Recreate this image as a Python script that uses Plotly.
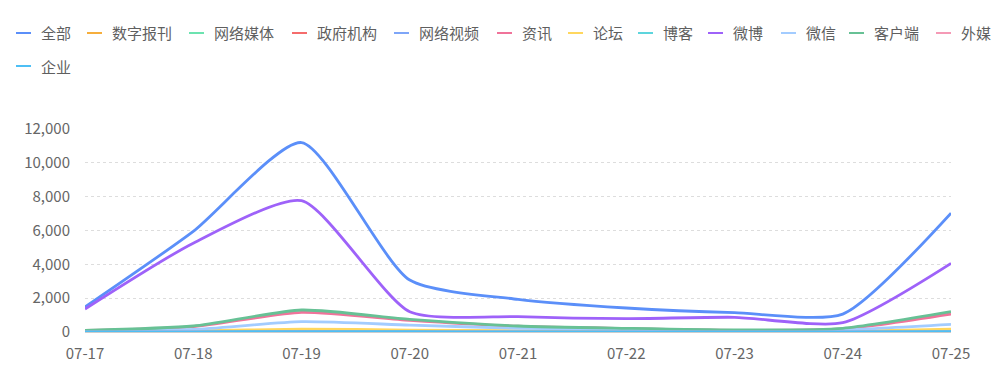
import plotly.graph_objects as go

dates = ["07-17", "07-18", "07-19", "07-20", "07-21", "07-22", "07-23", "07-24", "07-25"]

names = ["全部", "数字报刊", "网络媒体", "政府机构", "网络视频", "资讯", "论坛", "博客",
         "微博", "微信", "客户端", "外媒", "企业"]
colors = ["#5B8FF9", "#F6AE3C", "#6CE3B0", "#F56C6C", "#7EA6F8", "#F0739A", "#FFD75E",
          "#5DD5DD", "#9E62F9", "#A3CCFF", "#67C195", "#F59AB6", "#4DBFF5"]

all_vals = [1480, 5950, 11200, 3070, 1930, 1420, 1140, 1060, 7030]
szbk_vals = [10, 20, 40, 25, 15, 10, 8, 10, 30]
wlmt_vals = [20, 40, 90, 60, 40, 30, 20, 25, 80]
zfjg_vals = [5, 10, 20, 15, 10, 8, 5, 6, 15]
wlsp_vals = [5, 10, 25, 15, 10, 8, 5, 6, 20]
zx_vals = [90, 320, 1160, 690, 340, 200, 100, 180, 1065]
lt_vals = [20, 60, 175, 110, 70, 50, 30, 40, 175]
bk_vals = [2, 5, 10, 6, 4, 3, 2, 3, 8]
wb_vals = [1360, 5250, 7760, 1200, 905, 790, 870, 550, 4060]
wx_vals = [40, 150, 610, 410, 220, 150, 80, 120, 450]
khd_vals = [100, 355, 1300, 750, 355, 215, 120, 220, 1200]
wm_vals = [2, 5, 15, 10, 6, 4, 2, 3, 12]
qy_vals = [5, 10, 20, 15, 10, 8, 5, 6, 20]

series = [all_vals, szbk_vals, wlmt_vals, zfjg_vals, wlsp_vals, zx_vals, lt_vals, bk_vals,
          wb_vals, wx_vals, khd_vals, wm_vals, qy_vals]

W, H = 1002, 378
ML, MR, MT, MB = 85, 51, 129, 46
PW, PH = W - ML - MR, H - MT - MB

def px_x(px):
    return (px - ML) / PW

def px_y(py):
    return (H - MB - py) / PH

# legend layout (pixel positions of each entry's marker start, and row y)
legend_x = [16, 87, 189, 292, 394, 497, 568, 638, 708, 781, 849, 936, 16]
legend_y = [33] * 12 + [66]

fig = go.Figure()
for name, color, vals in zip(names, colors, series):
    fig.add_trace(go.Scatter(
        x=dates, y=vals, name=name, mode="lines",
        line=dict(color=color, width=2.8, shape="spline", smoothing=0.62),
        showlegend=False,
    ))

shapes = []
annotations = []
for name, color, lx, ly in zip(names, colors, legend_x, legend_y):
    shapes.append(dict(type="line", xref="paper", yref="paper",
                       x0=px_x(lx), x1=px_x(lx + 15), y0=px_y(ly), y1=px_y(ly),
                       line=dict(color=color, width=2)))
    annotations.append(dict(text=name, xref="paper", yref="paper",
                            x=px_x(lx + 23), y=px_y(ly), xanchor="left", yanchor="middle",
                            showarrow=False,
                            font=dict(size=15, color="#5f5f5f",
                                      family="Noto Sans CJK SC, sans-serif")))

fig.update_layout(
    width=W, height=H,
    margin=dict(l=ML, r=MR, t=MT, b=MB),
    paper_bgcolor="white", plot_bgcolor="white",
    font=dict(family="Noto Sans CJK SC, Noto Sans, sans-serif", size=14, color="#666666"),
    showlegend=False,
    shapes=shapes,
    annotations=annotations,
    xaxis=dict(
        type="category", range=[0, len(dates) - 1], showgrid=False,
        showline=True, linecolor="#cccccc", linewidth=1,
        ticks="", tickfont=dict(size=15, color="#666666"),
        ticklabelstandoff=8, zeroline=False, fixedrange=True,
    ),
    yaxis=dict(
        range=[0, 12000], tickvals=[0, 2000, 4000, 6000, 8000, 10000, 12000],
        tickformat=",d", showgrid=True, gridcolor="#dddddd", griddash="dot",
        gridwidth=1, zeroline=False, showline=False, ticklabelstandoff=14,
        tickfont=dict(size=15, color="#666666"),
    ),
)

fig.write_html("out.html", config={"displayModeBar": False},
               post_script="document.body.style.margin='0';")
